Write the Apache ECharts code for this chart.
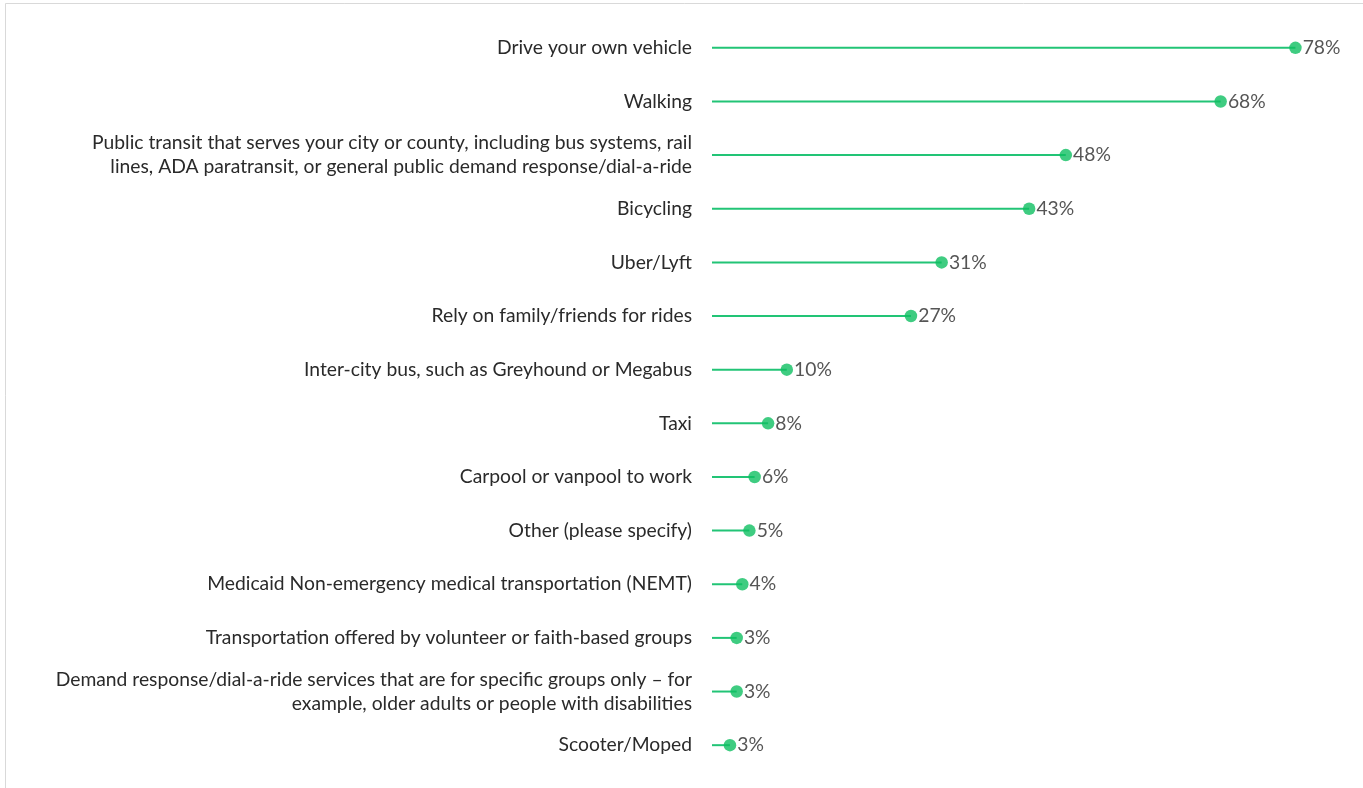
<!DOCTYPE html>
<html>
<head>
<meta charset="utf-8">
<script src="https://cdn.jsdelivr.net/npm/echarts@6/dist/echarts.min.js"></script>
<style>
html,body{margin:0;padding:0;background:#fff;}
#chart{width:1363px;height:788px;}
</style>
</head>
<body>
<div id="chart"></div>
<script>
const categories = [
  'Drive your own vehicle',
  'Walking',
  'Public transit that serves your city or county, including bus systems, rail\nlines, ADA paratransit, or general public demand response/dial-a-ride',
  'Bicycling',
  'Uber/Lyft',
  'Rely on family/friends for rides',
  'Inter-city bus, such as Greyhound or Megabus',
  'Taxi',
  'Carpool or vanpool to work',
  'Other (please specify)',
  'Medicaid Non-emergency medical transportation (NEMT)',
  'Transportation offered by volunteer or faith-based groups',
  'Demand response/dial-a-ride services that are for specific groups only – for\nexample, older adults or people with disabilities',
  'Scooter/Moped'
];
const values = [78.0, 68.0, 47.3, 42.4, 30.7, 26.6, 10.0, 7.5, 5.7, 5.0, 4.05, 3.3, 3.3, 2.4];
const valueLabels = ['78%', '68%', '48%', '43%', '31%', '27%', '10%', '8%', '6%', '5%', '4%', '3%', '3%', '3%'];

const chart = echarts.init(document.getElementById('chart'));
const FONT = 'Lato';
chart.setOption({
  backgroundColor: '#ffffff',
  animation: false,
  graphic: [
    { type: 'line', shape: { x1: 5.5, y1: 3.5, x2: 1363, y2: 3.5 }, style: { stroke: '#d9d9d9', lineWidth: 1 } },
    { type: 'line', shape: { x1: 5.5, y1: 3.5, x2: 5.5, y2: 788 }, style: { stroke: '#d9d9d9', lineWidth: 1 } }
  ],
  grid: { left: 712, top: 21, width: 598.4, height: 751, containLabel: false },
  xAxis: {
    type: 'value', min: 0, max: 80, show: false
  },
  yAxis: {
    type: 'category', data: categories, inverse: true,
    axisLine: { show: false }, axisTick: { show: false }, splitLine: { show: false },
    axisLabel: {
      margin: 20, fontFamily: FONT, fontSize: 19.3, lineHeight: 24,
      color: '#2a2a2a', align: 'right'
    }
  },
  series: [
    {
      type: 'bar', data: values, barWidth: 2,
      itemStyle: { color: '#22c476' }, silent: true
    },
    {
      type: 'scatter', data: values, symbolSize: 12.5, symbol: 'circle',
      itemStyle: { color: '#0fbf62' },
      label: {
        show: true, position: 'right', distance: 1,
        fontFamily: FONT, fontSize: 19.3, color: '#2a2a2a',
        formatter: p => valueLabels[p.dataIndex]
      }
    }
  ]
});
</script>
</body>
</html>
